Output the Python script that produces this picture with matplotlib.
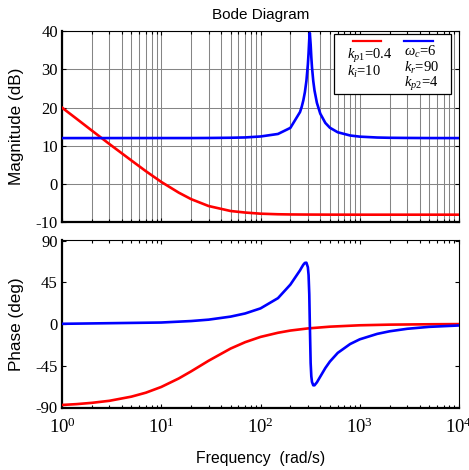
import matplotlib
matplotlib.use("Agg")
import matplotlib.pyplot as plt
from matplotlib.ticker import LogLocator, NullFormatter, FixedLocator
from matplotlib.patches import Rectangle

# ---- data ----
w_pi = [1, 1.4, 2, 3, 5, 7, 10, 15, 20, 30, 50, 70, 100, 150, 200, 300, 500, 1000, 2000, 5000, 10000]
mag_pi = [20.0, 17.1, 14.0, 10.5, 6.2, 3.4, 0.6, -2.2, -3.9, -5.7, -7.0, -7.4, -7.7, -7.85, -7.9, -7.93, -7.95, -7.96, -7.96, -7.96, -7.96]
ph_pi = [-87.7, -86.8, -85.4, -83.2, -78.7, -74.4, -68.2, -59.0, -51.3, -39.8, -26.6, -19.7, -14.0, -9.5, -7.1, -4.8, -2.9, -1.4, -0.7, -0.3, -0.1]

w_pr = [1, 10, 20, 30, 50, 70, 100, 150, 200, 250, 260, 270, 280, 290, 300, 305, 310, 314,
        320, 325, 330, 340, 350, 370, 400, 450, 500, 600, 800, 1000, 1500, 2000, 3000, 5000, 10000]
mag_pr = [12.04, 12.05, 12.05, 12.07, 12.13, 12.21, 12.46, 13.12, 14.71, 18.84, 20.19, 21.88, 24.04, 26.96, 31.25, 34.27, 37.85, 39.46,
          36.5, 33.21, 30.6, 26.96, 24.47, 21.24, 18.43, 16.0, 14.75, 13.56, 12.72, 12.42, 12.19, 12.12, 12.08, 12.05, 12.04]
ph_pr = [0.2, 1.6, 3.2, 4.7, 8.0, 11.4, 16.9, 28.0, 42.7, 58.1, 61.3, 64.2, 66.2, 66.4, 61.5, 53.0, 32.2, 0.0,
         -42.3, -56.6, -62.7, -66.4, -66.4, -63.2, -57.0, -47.7, -40.7, -31.3, -21.7, -16.6, -10.7, -7.9, -5.2, -3.1, -1.6]

mag_ticks = [-10, 0, 10, 20, 30, 40]
ph_ticks = [-90, -45, 0, 45, 90]
x_ticks = [1, 10, 100, 1000, 10000]

legend_pi = ["$k_{p1}$=0.4", "$k_i$=10"]
legend_pr = ["$\\omega_c$=6", "$k_r$=90", "$k_{p2}$=4"]

plt.rcParams['font.family'] = ['Liberation Serif', 'DejaVu Serif']
plt.rcParams['mathtext.fontset'] = 'custom'
plt.rcParams['mathtext.it'] = 'Liberation Serif:italic'
plt.rcParams['mathtext.rm'] = 'Liberation Serif'

sans = ['Liberation Sans', 'DejaVu Sans']

fig = plt.figure(figsize=(4.69, 4.70), dpi=100)
ax1 = fig.add_axes([0.1322, 0.5266, 0.8465, 0.4074])
ax2 = fig.add_axes([0.1322, 0.1319, 0.8465, 0.3575])

red = '#ff0000'
blue = '#0000ff'

ax1.semilogx(w_pi, mag_pi, color=red, lw=1.9, zorder=3)
ax1.semilogx(w_pr, mag_pr, color=blue, lw=1.9, zorder=3)
ax2.semilogx(w_pi, ph_pi, color=red, lw=1.9, zorder=3)
ax2.semilogx(w_pr, ph_pr, color=blue, lw=1.9, zorder=3)

for ax in (ax1, ax2):
    ax.set_xlim(1, 10000)
    ax.xaxis.set_major_locator(FixedLocator(x_ticks))
    ax.xaxis.set_minor_locator(LogLocator(base=10, subs=range(2, 10), numticks=20))
    ax.xaxis.set_minor_formatter(NullFormatter())
    ax.tick_params(which='both', direction='in', top=True, right=True, length=3, width=0.8)
    ax.tick_params(which='minor', length=2)
    for s in ('top', 'right'):
        ax.spines[s].set_linewidth(0.8)
    for s in ('left', 'bottom'):
        ax.spines[s].set_linewidth(1.6)
    ax.tick_params(labelsize=12, pad=3)
    ax.yaxis.set_label_coords(-0.096, 0.525)

ax1.set_ylim(-10, 40)
ax1.set_yticks(mag_ticks)
ax1.set_yticklabels([str(t) for t in mag_ticks])
ax1.set_xticklabels([])
ax1.grid(True, which='major', axis='both', color='#858585', lw=0.75)
ax1.grid(True, which='minor', axis='x', color='#858585', lw=0.75)
ax1.set_axisbelow(True)
ax1.set_ylabel('Magnitude (dB)', family=sans, fontsize=12.3)
ax1.set_title('Bode Diagram', family=sans, fontsize=11, pad=9)

ax2.set_ylim(-91, 91)
ax2.set_yticks(ph_ticks)
ax2.set_yticklabels([str(t) for t in ph_ticks])
ax2.set_xticklabels(['$\\mathrm{10^{%d}}$' % i for i in range(5)], fontsize=13.5)
ax2.tick_params(axis='x', pad=7)
ax2.set_ylabel('Phase (deg)', family=sans, fontsize=12.3)
ax2.set_xlabel('Frequency  (rad/s)', family=sans, fontsize=11.3, labelpad=10)

# legend box
ax1.add_patch(Rectangle((0.685, 0.669), 0.295, 0.315, transform=ax1.transAxes,
                        facecolor='white', edgecolor='black', lw=0.9, zorder=5))
ax1.plot([0.732, 0.804], [0.949, 0.949], color=red, lw=1.6, transform=ax1.transAxes, zorder=6)
ax1.plot([0.861, 0.935], [0.949, 0.949], color=blue, lw=1.6, transform=ax1.transAxes, zorder=6)
for t, y in zip(legend_pi, [0.869, 0.787]):
    ax1.text(0.717, y, t, transform=ax1.transAxes, fontsize=10.5,
             va='center', ha='left', zorder=7)
for t, y in zip(legend_pr, [0.892, 0.805, 0.722]):
    ax1.text(0.861, y, t, transform=ax1.transAxes, fontsize=10.5,
             va='center', ha='left', zorder=7)

fig.savefig('out.png', dpi=100)
